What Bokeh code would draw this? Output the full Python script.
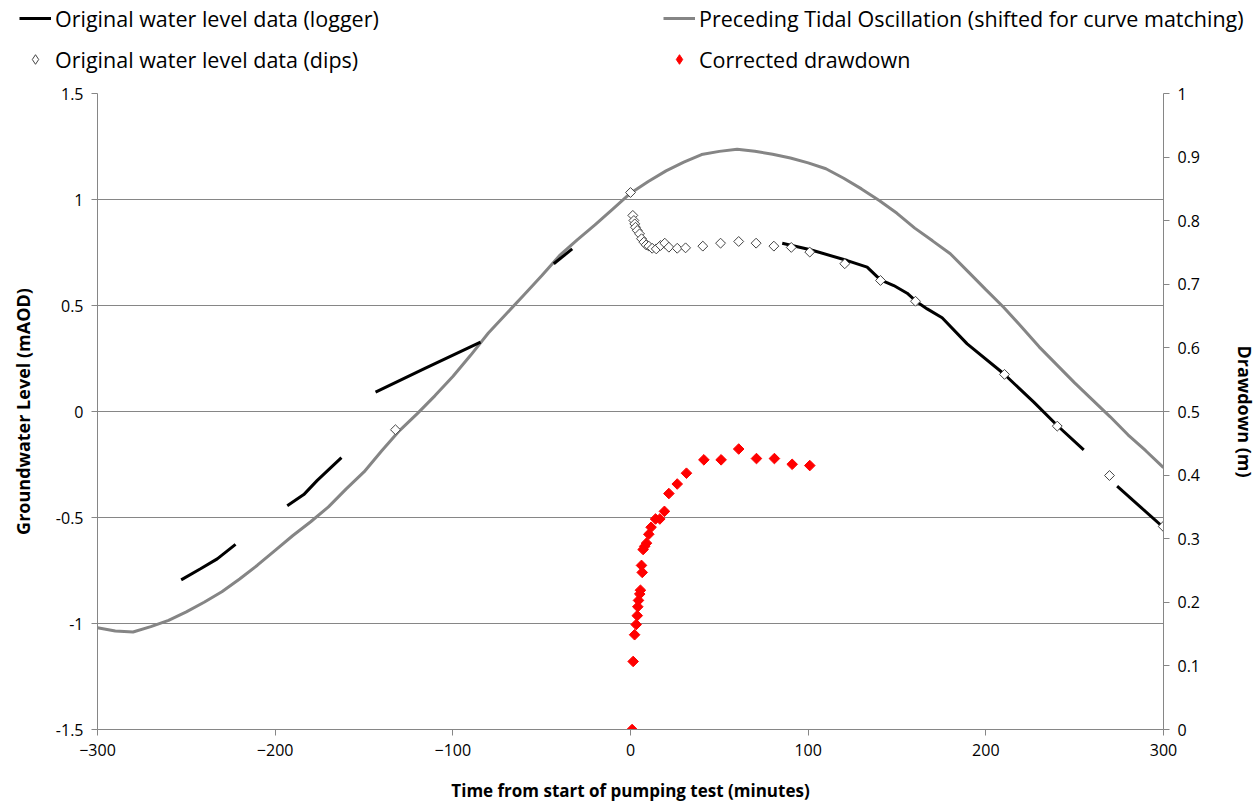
import math
from bokeh.plotting import figure
from bokeh.layouts import column
from bokeh.models import (Range1d, LinearAxis, FixedTicker, NumeralTickFormatter,
                          Legend, LegendItem)
from bokeh.embed import file_html
from bokeh.resources import INLINE

# ---- data ----
tide_t = [-300, -290, -280, -270, -260, -250, -240, -230, -220, -210, -200, -190, -180,
          -170, -160, -150, -140, -130, -120, -110, -100, -90, -80, -70, -60, -50, -40,
          -30, -20, -10, 0, 10, 20, 30, 40, 50, 60, 70, 80, 90, 100, 110, 120, 130, 140,
          150, 160, 170, 180, 190, 200, 210, 220, 230, 240, 250, 260, 270, 280, 290, 300]
tide_y = [-1.02, -1.035, -1.04, -1.015, -0.985, -0.945, -0.90, -0.85, -0.79, -0.725,
          -0.655, -0.585, -0.52, -0.45, -0.365, -0.285, -0.185, -0.09, -0.01, 0.075,
          0.165, 0.265, 0.37, 0.46, 0.55, 0.64, 0.735, 0.81, 0.88, 0.955, 1.03, 1.085,
          1.135, 1.176, 1.212, 1.227, 1.237, 1.228, 1.213, 1.196, 1.173, 1.145, 1.10,
          1.05, 0.995, 0.935, 0.865, 0.805, 0.744, 0.66, 0.575, 0.492, 0.40, 0.305, 0.22,
          0.135, 0.055, -0.025, -0.11, -0.185, -0.265]

logger_t = [
    [-252.9, -242.0, -232.6, -222.3],
    [-193.2, -183.9, -176.3, -162.7],
    [-143.5, -116.3, -84.4],
    [-43.2, -32.8],
    [85.4, 101.3, 122.0, 133.2, 140.7, 148.2, 155.7, 161.3, 167.0, 175.4, 189.5, 210.1,
     227.0, 240.2, 255.1],
    [273.9, 299.8],
]
logger_y = [
    [-0.794, -0.742, -0.695, -0.627],
    [-0.445, -0.392, -0.325, -0.218],
    [0.091, 0.201, 0.327],
    [0.697, 0.767],
    [0.794, 0.763, 0.712, 0.681, 0.621, 0.594, 0.558, 0.516, 0.484, 0.442, 0.319, 0.178,
     0.044, -0.066, -0.181],
    [-0.352, -0.546],
]

dips_t = [-132.3, 0, 1.3, 1.9, 2.4, 2.8, 3.8, 5.1, 6.2, 7.5, 8.8, 10.3, 12.2, 14.5, 16.9,
          19.3, 21.6, 26.3, 31, 40.7, 50.7, 60.9, 70.7, 80.7, 90.5, 100.9, 120.6, 140.7,
          160.4, 210.5, 240.2, 269.6, 299.8]
dips_y = [-0.086, 1.033, 0.925, 0.901, 0.885, 0.869, 0.854, 0.838, 0.815, 0.799, 0.786,
          0.780, 0.770, 0.767, 0.783, 0.794, 0.775, 0.770, 0.772, 0.780, 0.794, 0.802,
          0.794, 0.780, 0.774, 0.752, 0.697, 0.618, 0.520, 0.175, -0.069, -0.302, -0.542]

corr_t = [0.9, 1.5, 2.3, 3.2, 3.8, 4.1, 4.5, 5.2, 5.6, 6.6, 6.2, 7.1, 8.0, 9.0, 10.3, 11.6,
          14.1, 16.5, 19.1, 21.6, 26.3, 31.5, 41.3, 51.0, 60.9, 70.9, 81.0, 91.0, 100.9]
corr_d = [0.0, 0.107, 0.149, 0.165, 0.179, 0.193, 0.203, 0.213, 0.219, 0.247, 0.258, 0.283,
          0.288, 0.293, 0.307, 0.318, 0.331, 0.331, 0.343, 0.371, 0.386, 0.403, 0.424,
          0.424, 0.441, 0.426, 0.426, 0.417, 0.415]

x_ticks = [-300, -200, -100, 0, 100, 200, 300]
y_ticks = [-1.5, -1, -0.5, 0, 0.5, 1, 1.5]
d_ticks = [0, 0.1, 0.2, 0.3, 0.4, 0.5, 0.6, 0.7, 0.8, 0.9, 1]

labels = ["Original water level data (logger)",
          "Preceding Tidal Oscillation (shifted for curve matching)",
          "Original water level data (dips)",
          "Corrected drawdown"]

FONT = "Open Sans"
AX = "#868686"
TOP_H = 81


def draw_series(fig, marker, ang):
    r_tide = fig.line(tide_t, tide_y, line_color="#858585", line_width=3)
    r_log = fig.multi_line(logger_t, logger_y, line_color="black", line_width=3)
    r_dips = fig.scatter(dips_t, dips_y, marker=marker, angle=ang, size=7,
                         fill_color="white", line_color="#444444", line_width=1)
    r_corr = fig.scatter(corr_t, corr_d, marker=marker, angle=ang, size=7.5,
                         fill_color="#ff0000", line_color="#ff0000",
                         y_range_name="dd")
    return r_tide, r_log, r_dips, r_corr


# ---------- main chart ----------
p = figure(width=1260, height=808 - TOP_H, x_range=Range1d(-300, 300),
           y_range=Range1d(-1.5, 1.5), output_backend="svg", toolbar_location=None,
           min_border_left=97, min_border_right=97, min_border_top=12,
           min_border_bottom=79)
p.frame_align = False
p.outline_line_color = None
p.extra_y_ranges = {"dd": Range1d(0, 1)}
draw_series(p, "square", math.pi / 4)

p.xaxis.ticker = FixedTicker(ticks=x_ticks)
p.yaxis.ticker = FixedTicker(ticks=y_ticks)
p.yaxis.formatter = NumeralTickFormatter(format="0.[0]")
p.xaxis.axis_label = "Time from start of pumping test (minutes)"
p.yaxis.axis_label = "Groundwater Level (mAOD)"

right = LinearAxis(y_range_name="dd", ticker=FixedTicker(ticks=d_ticks),
                   formatter=NumeralTickFormatter(format="0.[0]"),
                   axis_label="Drawdown (m)")
p.add_layout(right, "right")

for ax in [p.xaxis[0], p.yaxis[0], right]:
    ax.axis_line_color = AX
    ax.major_tick_line_color = AX
    ax.minor_tick_line_color = None
    ax.major_tick_out = 6
    ax.major_tick_in = 0
    ax.major_label_text_font = FONT
    ax.major_label_text_font_size = "16px"
    ax.major_label_text_color = "black"
    ax.axis_label_text_font = FONT
    ax.axis_label_text_font_size = "17px"
    ax.axis_label_text_font_style = "bold"
    ax.axis_label_text_color = "black"

p.yaxis.axis_label_text_font_size = "18px"
p.xaxis.major_label_standoff = 8
p.xaxis.axis_label_standoff = 20
p.yaxis.major_label_standoff = 8
p.yaxis.axis_label_standoff = 18
right.major_label_standoff = 8
right.axis_label_standoff = 30

p.xgrid.visible = False
p.ygrid.grid_line_color = AX
p.ygrid.grid_line_width = 1

# ---------- legend strip (same series, kept out of view) ----------
top = figure(width=1260, height=TOP_H, x_range=Range1d(1000, 1001),
             y_range=Range1d(1000, 1001), output_backend="svg", toolbar_location=None,
             x_axis_location=None, y_axis_location=None,
             min_border_left=0, min_border_right=0, min_border_top=0,
             min_border_bottom=0)
top.frame_align = False
top.outline_line_color = None
top.xgrid.visible = False
top.ygrid.visible = False
top.extra_y_ranges = {"dd": Range1d(1000, 1001)}
t_tide, t_log, t_dips, t_corr = draw_series(top, "diamond", 0)

legend = Legend(items=[
    LegendItem(label=labels[0], renderers=[t_log]),
    LegendItem(label=labels[1], renderers=[t_tide]),
    LegendItem(label=labels[2], renderers=[t_dips]),
    LegendItem(label=labels[3], renderers=[t_corr]),
], orientation="horizontal", ncols=2)
legend.location = (19, 7)
legend.margin = 0
legend.padding = 0
legend.spacing = 11
legend.glyph_width = 32
legend.glyph_height = 24
legend.label_height = 30
legend.label_width = 597
legend.label_standoff = 4
legend.label_text_font = FONT
legend.label_text_font_size = "21.5px"
legend.label_text_color = "black"
legend.border_line_color = None
legend.background_fill_alpha = 0
top.add_layout(legend)

layout = column(top, p, spacing=0)
open("out.html", "w").write(file_html(layout, INLINE))
